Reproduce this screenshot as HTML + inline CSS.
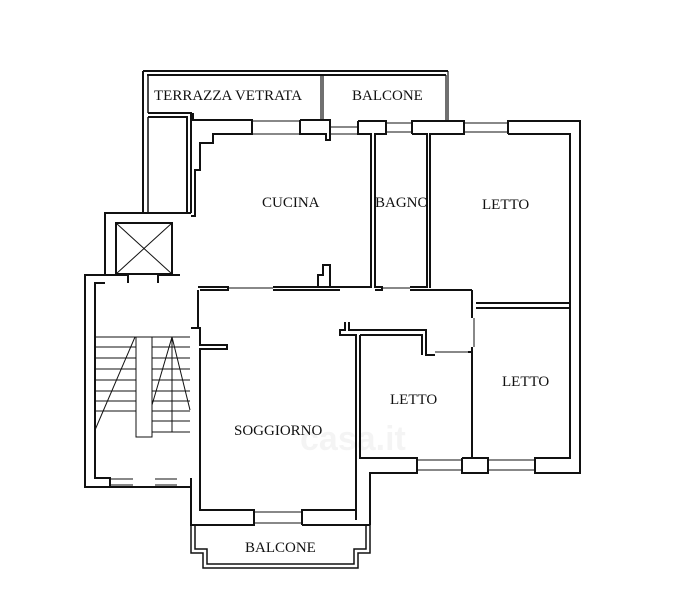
<!DOCTYPE html>
<html><head><meta charset="utf-8"><style>
html,body{margin:0;padding:0;background:#fff;}
svg{display:block;}
text{font-family:"Liberation Serif",serif;font-size:15px;fill:#111;}
</style></head><body>
<svg width="674" height="600" viewBox="0 0 674 600" xmlns="http://www.w3.org/2000/svg">
<g fill="none" stroke="#111" stroke-width="2">
<!-- terrazza -->
<line x1="143" y1="71" x2="448" y2="71"/>
<line x1="147" y1="75" x2="446" y2="75"/>
<line x1="143" y1="71" x2="143" y2="213"/>
<line x1="148" y1="75" x2="148" y2="113" stroke-width="1.5"/>
<line x1="148" y1="117" x2="148" y2="213" stroke-width="1.5"/>
<line x1="321" y1="75" x2="321" y2="120" stroke-width="1.2"/>
<line x1="323" y1="75" x2="323" y2="120" stroke-width="1.2"/>
<line x1="446" y1="75" x2="446" y2="120" stroke-width="1.2"/>
<line x1="448" y1="71" x2="448" y2="120" stroke-width="1.2"/>
<!-- small strip -->
<polyline points="148,113 191,113 191,213"/>
<polyline points="148,117 187,117 187,213"/>
<!-- kitchen top wall -->
<polyline points="193,113 193,120 252,120 252,134 213,134 213,143 200,143 200,170 195,170 195,216 191,216"/>
<line x1="252" y1="121" x2="300" y2="121" stroke-width="1"/>
<line x1="252" y1="134" x2="300" y2="134" stroke-width="1"/>
<polyline points="300,120 330,120 330,140 326,140 326,134 300,134 300,120"/>
<line x1="330" y1="127" x2="358" y2="127" stroke-width="1"/>
<line x1="330" y1="134" x2="358" y2="134" stroke-width="1"/>
<!-- right block top wall -->
<polyline points="358,121 386,121 386,134 375,134 375,288"/>
<polyline points="358,121 358,134 371,134 371,288"/>
<line x1="386" y1="123" x2="412" y2="123" stroke-width="1"/>
<line x1="386" y1="132" x2="412" y2="132" stroke-width="1"/>
<polyline points="412,134 412,121 464,121 464,134 430,134 430,288"/>
<polyline points="427,288 427,134 412,134"/>
<line x1="464" y1="123" x2="508" y2="123" stroke-width="1"/>
<line x1="464" y1="132" x2="508" y2="132" stroke-width="1"/>
<polyline points="508,134 508,121 580,121 580,473 535,473 535,458 570,458 570,134 508,134"/>
<!-- letto1 bottom -->
<polyline points="476,303 570,303"/>
<polyline points="476,308 570,308"/>
<!-- corridor top -->
<polyline points="198,287 228,287 228,290 200,290"/>
<line x1="228" y1="288" x2="273" y2="288" stroke-width="1"/>
<polyline points="273,287 371,287"/>
<polyline points="273,290 340,290"/>
<polyline points="318,287 318,275 323,275 323,265 330,265 330,287"/>
<polyline points="375,287 382,287 382,290 375,290"/>
<line x1="382" y1="288" x2="410" y2="288" stroke-width="1"/>
<polyline points="410,287 427,287 M430,287 462,287 462,290 472,290"/>
<polyline points="410,290 472,290"/>
<!-- wall letto1 / letto2 left -->
<polyline points="472,290 472,318 M476,303 476,318"/>
<polyline points="472,347 472,458 M476,347 476,458"/>
<line x1="474" y1="318" x2="474" y2="347" stroke-width="1"/>
<!-- letto3 -->
<polyline points="345,322 345,330 340,330 340,335 356,335 356,520"/>
<polyline points="349,322 349,330 426,330 426,355 435,355"/>
<polyline points="360,335 422,335 422,355 "/>
<polyline points="360,335 360,458 417,458 417,473 370,473 370,525"/>
<line x1="417" y1="460" x2="462" y2="460" stroke-width="1"/>
<line x1="417" y1="470" x2="462" y2="470" stroke-width="1"/>
<polyline points="462,458 488,458 488,473 462,473 462,458"/>
<line x1="488" y1="460" x2="535" y2="460" stroke-width="1"/>
<line x1="488" y1="470" x2="535" y2="470" stroke-width="1"/>
<line x1="435" y1="352" x2="468" y2="352" stroke-width="1"/>
<polyline points="468,352 472,352 M468,355 472,355"/>
<!-- soggiorno -->
<polyline points="198,290 198,328"/>
<polyline points="191,328 200,328 200,345 227,345 227,349 200,349 200,510 254,510 254,525 191,525 191,487"/>
<line x1="254" y1="512" x2="302" y2="512" stroke-width="1"/>
<line x1="254" y1="523" x2="302" y2="523" stroke-width="1"/>
<polyline points="302,525 302,510 356,510"/>
<polyline points="302,525 370,525"/>
<!-- balcone -->
<polyline points="191,525 191,553 203,553 203,568 358,568 358,553 370,553 370,525" stroke-width="1.5"/>
<polyline points="195,525 195,549 207,549 207,564 354,564 354,549 366,549 366,525" stroke-width="1.5"/>
<!-- stair -->
<polyline points="105,275 85,275 85,487 191,487 191,478"/>
<polyline points="105,283 95,283 95,478 110,478 110,487 M133,487 133,478 155,478 155,487 M177,487 177,478 190,478 190,283 158,283"/>
<line x1="110" y1="479" x2="133" y2="479" stroke-width="1"/>
<line x1="110" y1="485" x2="133" y2="485" stroke-width="1"/>
<line x1="155" y1="479" x2="177" y2="479" stroke-width="1"/>
<line x1="155" y1="485" x2="177" y2="485" stroke-width="1"/>
<!-- elevator -->
<polyline points="105,275 105,213 191,213 M180,216 180,275 191,275 191,328"/>
<polyline points="128,283 128,275 105,275"/>
<polyline points="158,283 158,275 180,275"/>
<rect x="116" y="223" width="56" height="51"/>
<g stroke-width="1"><line x1="116" y1="223" x2="172" y2="274"/><line x1="172" y1="223" x2="116" y2="274"/></g>
<!-- steps -->
<g stroke-width="1">
<rect x="136" y="337" width="16" height="100"/>
<line x1="172" y1="337" x2="172" y2="432"/>
<line x1="95" y1="337" x2="136" y2="337"/><line x1="152" y1="337" x2="190" y2="337"/>
<line x1="95" y1="347" x2="136" y2="347"/><line x1="152" y1="347" x2="190" y2="347"/>
<line x1="95" y1="358" x2="136" y2="358"/><line x1="152" y1="358" x2="190" y2="358"/>
<line x1="95" y1="369" x2="136" y2="369"/><line x1="152" y1="369" x2="190" y2="369"/>
<line x1="95" y1="380" x2="136" y2="380"/><line x1="152" y1="380" x2="190" y2="380"/>
<line x1="95" y1="391" x2="136" y2="391"/><line x1="152" y1="391" x2="190" y2="391"/>
<line x1="95" y1="401" x2="136" y2="401"/><line x1="152" y1="401" x2="190" y2="401"/>
<line x1="95" y1="411" x2="136" y2="411"/><line x1="152" y1="411" x2="190" y2="411"/>
<line x1="152" y1="421" x2="190" y2="421"/>
<line x1="152" y1="432" x2="190" y2="432"/>
<line x1="135" y1="337" x2="95" y2="430"/>
<line x1="172" y1="337" x2="152" y2="405"/>
<line x1="172" y1="337" x2="190" y2="410"/>
</g>
</g>
<text x="154" y="100">TERRAZZA VETRATA</text>
<text x="352" y="100">BALCONE</text>
<text x="262" y="207">CUCINA</text>
<text x="375" y="207">BAGNO</text>
<text x="482" y="209">LETTO</text>
<text x="502" y="386">LETTO</text>
<text x="390" y="404">LETTO</text>
<text x="234" y="435">SOGGIORNO</text>
<text x="245" y="552">BALCONE</text>
<text x="300" y="450" style="font-family:'Liberation Sans',sans-serif;font-size:34px;font-weight:bold;fill:#000;opacity:0.04">casa.it</text>
</svg>
</body></html>
